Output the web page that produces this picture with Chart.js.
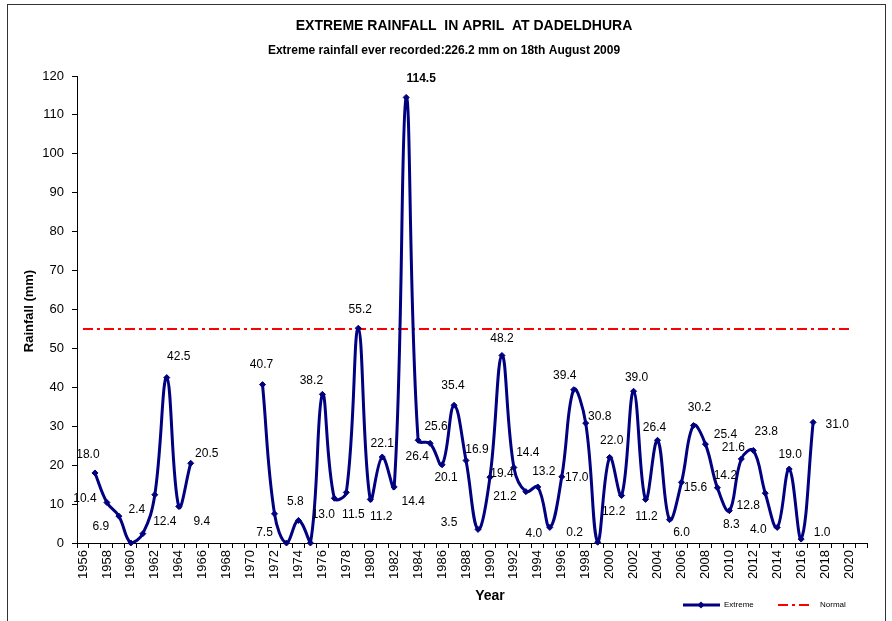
<!DOCTYPE html>
<html>
<head>
<meta charset="utf-8">
<script src="https://cdn.jsdelivr.net/npm/chart.js@4/dist/chart.umd.min.js"></script>
<style>
  body { margin: 0; background: #fff; }
  #wrap { position: relative; width: 892px; height: 621px; overflow: hidden; }
  #frame { position: absolute; left: 7px; top: 4px; width: 877px; height: 700px; border: 1px solid #333; }
  canvas { position: absolute; left: 0; top: 0; }
</style>
</head>
<body>
<div id="wrap">
  <canvas id="rainChart" width="892" height="621"></canvas>
  <div id="frame"></div>
</div>
<script>
// categories: 1956 .. 2021
const years = [];
for (let y = 1956; y <= 2021; y++) years.push(String(y));

// extreme April rainfall (mm), one per year above
const rainfall = [
  null, 18.0, 10.4, 6.9, 0.0, 2.4, 12.4, 42.5, 9.4, 20.5,
  null, null, null, null, null,
  40.7, 7.5, 0.0, 5.8, 0.0, 38.2, 11.5, 13.0, 55.2, 11.2,
  22.1, 14.4, 114.5, 26.4, 25.6, 20.1, 35.4, 21.2, 3.5, 16.9,
  48.2, 19.4, 13.2, 14.4, 4.0, 17.0, 39.4, 30.8, 0.2, 22.0,
  12.2, 39.0, 11.2, 26.4, 6.0, 15.6, 30.2, 25.4, 14.2, 8.3,
  21.6, 23.8, 12.8, 4.0, 19.0, 1.0, 31.0,
  null, null, null, null
];

// normal line
const normalValue = 55;
const normalFrom = "1956";
const normalTo = "2020";

const yTicks = { min: 0, max: 120, step: 10 };

// where each data label sits relative to its point (px)
const labelOffsets = {
  "1957": [-7, -18], "1958": [-22, -4], "1959": [-18, 11], "1961": [-6, -24],
  "1962": [10, 27], "1963": [12, -21], "1964": [23, 15], "1965": [16, -10],
  "1971": [-1, -20], "1972": [-10, 19], "1974": [-3, -19], "1976": [-11, -14],
  "1977": [19, 16], "1978": [-23, 22], "1979": [2, -18], "1980": [11, 17],
  "1981": [0, -13], "1982": [19, 15], "1983": [15, -19], "1984": [-1, 16],
  "1985": [6, -17], "1986": [4, 13], "1987": [-1, -20], "1988": [39, 36],
  "1989": [-29, -7], "1990": [-13, -28], "1991": [0, -17], "1992": [-12, 6],
  "1993": [18, -20], "1994": [-10, -34], "1995": [-16, 6], "1996": [15, 1],
  "1997": [-9, -14], "1998": [14, -6], "1999": [-23, -10], "2000": [2, -17],
  "2001": [-8, 16], "2002": [3, -14], "2003": [1, 17], "2004": [-3, -13],
  "2005": [12, 13], "2006": [14, 5], "2007": [6, -18], "2008": [20, -9],
  "2009": [8, -12], "2010": [2, 14], "2011": [-8, -11], "2012": [13, -19],
  "2013": [-17, 13], "2014": [-19, 2], "2015": [1, -14], "2016": [21, -6],
  "2017": [24, 2]
};

const FONT = "'Liberation Sans', Arial, sans-serif";
const NAVY = "#000080";
const normalDash = [10, 4, 3, 4];

const extras = {
  id: "extras",
  afterDatasetsDraw(chart) {
    const ctx = chart.ctx;
    const meta = chart.getDatasetMeta(0);
    const maxVal = Math.max(...rainfall.filter(v => v !== null));
    ctx.save();
    ctx.fillStyle = "#000";
    ctx.textAlign = "center";
    ctx.textBaseline = "middle";
    meta.data.forEach((pt, i) => {
      const v = rainfall[i];
      const off = labelOffsets[years[i]];
      if (v === null || !off) return;
      ctx.font = (v === maxVal ? "bold " : "") + "12px " + FONT;
      ctx.fillText(v.toFixed(1), pt.x + off[0], pt.y + off[1]);
    });
    ctx.restore();
  },
  afterDraw(chart) {
    const ctx = chart.ctx;
    ctx.save();
    ctx.fillStyle = "#000";
    ctx.textAlign = "center";
    ctx.textBaseline = "middle";
    ctx.font = "bold 14px " + FONT;
    ctx.fillText("EXTREME RAINFALL  IN APRIL  AT DADELDHURA", 464, 26);
    ctx.font = "bold 12px " + FONT;
    ctx.fillText("Extreme rainfall ever recorded:226.2 mm on 18th August 2009", 444, 51);
    ctx.font = "bold 14px " + FONT;
    ctx.fillText("Year", 490, 596);
    ctx.save();
    ctx.translate(29, 311);
    ctx.rotate(-Math.PI / 2);
    ctx.font = "bold 13px " + FONT;
    ctx.fillText("Rainfall (mm)", 0, 0);
    ctx.restore();

    // legend
    const ly = 605;
    ctx.strokeStyle = NAVY;
    ctx.lineWidth = 3;
    ctx.beginPath(); ctx.moveTo(683, ly); ctx.lineTo(720, ly); ctx.stroke();
    ctx.fillStyle = NAVY;
    ctx.beginPath();
    ctx.moveTo(701, ly - 3.5); ctx.lineTo(704.5, ly); ctx.lineTo(701, ly + 3.5); ctx.lineTo(697.5, ly);
    ctx.closePath(); ctx.fill();
    ctx.strokeStyle = "#ff0000";
    ctx.lineWidth = 2;
    ctx.setLineDash(normalDash);
    ctx.beginPath(); ctx.moveTo(778, ly); ctx.lineTo(810, ly); ctx.stroke();
    ctx.setLineDash([]);
    ctx.fillStyle = "#000";
    ctx.textAlign = "left";
    ctx.font = "8px " + FONT;
    ctx.fillText("Extreme", 724, ly);
    ctx.fillText("Normal", 820, ly);
    ctx.restore();
  }
};

new Chart(document.getElementById("rainChart"), {
  type: "line",
  data: {
    labels: years,
    datasets: [
      {
        label: "Extreme",
        data: rainfall,
        borderColor: NAVY,
        backgroundColor: NAVY,
        borderWidth: 3,
        tension: 0.4,
        spanGaps: false,
        pointStyle: "rectRot",
        pointRadius: 3,
        pointBorderWidth: 1,
        clip: false
      },
      {
        label: "Normal",
        data: [{ x: normalFrom, y: normalValue }, { x: normalTo, y: normalValue }],
        borderColor: "#ff0000",
        borderWidth: 2,
        borderDash: normalDash,
        pointRadius: 0,
        tension: 0
      }
    ]
  },
  options: {
    responsive: false,
    animation: false,
    devicePixelRatio: 1,
    layout: { padding: { top: 76, right: 25, bottom: 0, left: 0 } },
    plugins: {
      legend: { display: false },
      tooltip: { enabled: false }
    },
    scales: {
      x: {
        type: "category",
        offset: true,
        afterFit(scale) { scale.height = 78; },
        grid: { offset: true, drawOnChartArea: false, drawTicks: true, tickLength: 5, color: "#000" },
        border: { color: "#000", width: 1 },
        ticks: {
          autoSkip: false,
          minRotation: 90,
          maxRotation: 90,
          padding: 2,
          color: "#000",
          font: { family: FONT, size: 13 },
          callback(val, i) { return Number(years[i]) % 2 === 0 ? years[i] : ""; }
        }
      },
      y: {
        min: yTicks.min,
        max: yTicks.max,
        afterFit(scale) { scale.width = 77; },
        grid: { drawOnChartArea: false, drawTicks: true, tickLength: 5, color: "#000" },
        border: { color: "#000", width: 1 },
        ticks: {
          stepSize: yTicks.step,
          padding: 8,
          color: "#000",
          font: { family: FONT, size: 13 }
        }
      }
    }
  },
  plugins: [extras]
});
</script>
</body>
</html>
